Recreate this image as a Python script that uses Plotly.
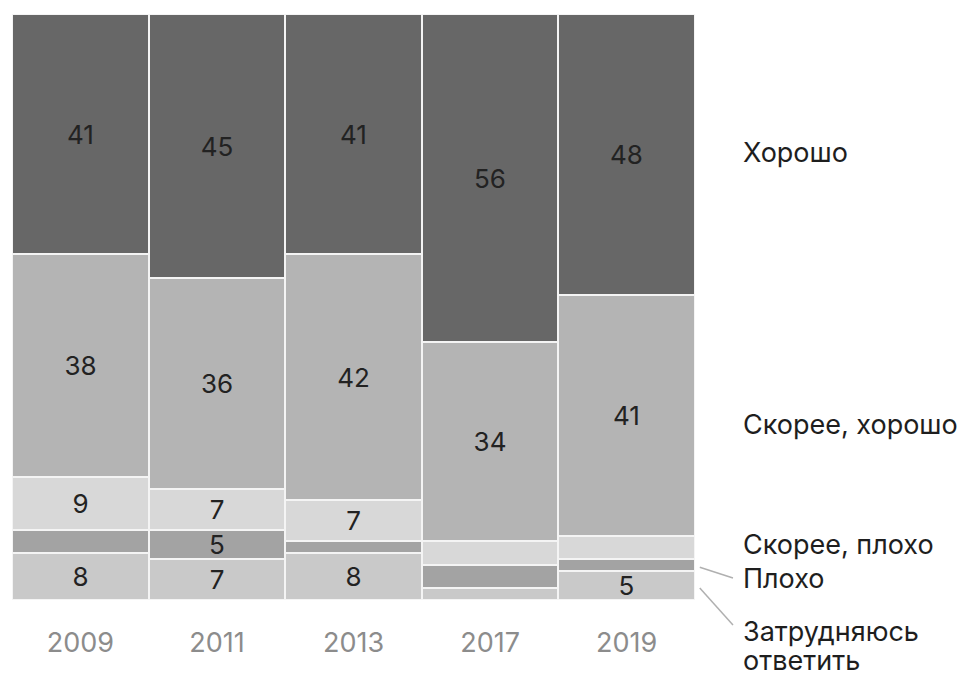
import plotly.graph_objects as go

years = ["2009", "2011", "2013", "2017", "2019"]
# Shares of answers, percent; bottom-to-top stacking order
hard_to_say = [8, 7, 8, 2, 5]
bad = [4, 5, 2, 4, 2]
rather_bad = [9, 7, 7, 4, 4]
rather_good = [38, 36, 42, 34, 41]
good = [41, 45, 41, 56, 48]

series = [
    ("Затрудняюсь ответить", hard_to_say, "#c9c9c9"),
    ("Плохо", bad, "#a3a3a3"),
    ("Скорее, плохо", rather_bad, "#d8d8d8"),
    ("Скорее, хорошо", rather_good, "#b4b4b4"),
    ("Хорошо", good, "#676767"),
]

FONT = "Inter"

fig = go.Figure()
for name, vals, color in series:
    fig.add_trace(go.Bar(
        x=years, y=vals, name=name,
        marker=dict(color=color, line=dict(color="#f4f4f4", width=2)),
        text=[str(v) if v >= 5 else "" for v in vals],
        textposition="inside", insidetextanchor="middle",
        textangle=0,
        textfont=dict(family=FONT, size=26, color="#222222"),
        constraintext="none",
        hoverinfo="skip",
    ))

# Category labels on the right, beside the 2019 column (paper coordinates)
right_labels = [
    ("Хорошо", 0.763),
    ("Скорее, хорошо", 0.299),
    ("Скорее, плохо", 0.094),
    ("Плохо", 0.0375),
    ("Затрудняюсь", -0.0546),
    ("ответить", -0.104),
]
for txt, yv in right_labels:
    fig.add_annotation(
        x=1.067, y=yv, xref="paper", yref="paper", text=txt, showarrow=False,
        xanchor="left", yanchor="middle", align="left",
        font=dict(family=FONT, size=27, color="#1e1e1e"),
    )

# Leader lines for the two thin bottom segments
for y0, y1 in [(0.056, 0.0375), (0.0205, -0.0427)]:
    fig.add_shape(type="line", xref="paper", yref="paper",
                  x0=1.007, y0=y0, x1=1.0556, y1=y1,
                  line=dict(color="#b0b0b0", width=1.5))

fig.update_layout(
    barmode="stack", bargap=0,
    width=958, height=675,
    margin=dict(l=12, r=263, t=14, b=75),
    paper_bgcolor="white", plot_bgcolor="white",
    showlegend=False,
    xaxis=dict(showgrid=False, showline=False, zeroline=False,
               ticks="outside", ticklen=19, tickcolor="rgba(0,0,0,0)",
               tickfont=dict(family=FONT, size=27, color="#8c8c8c")),
    yaxis=dict(range=[0, 100], visible=False, fixedrange=True),
)

fig.write_html("out.html")
